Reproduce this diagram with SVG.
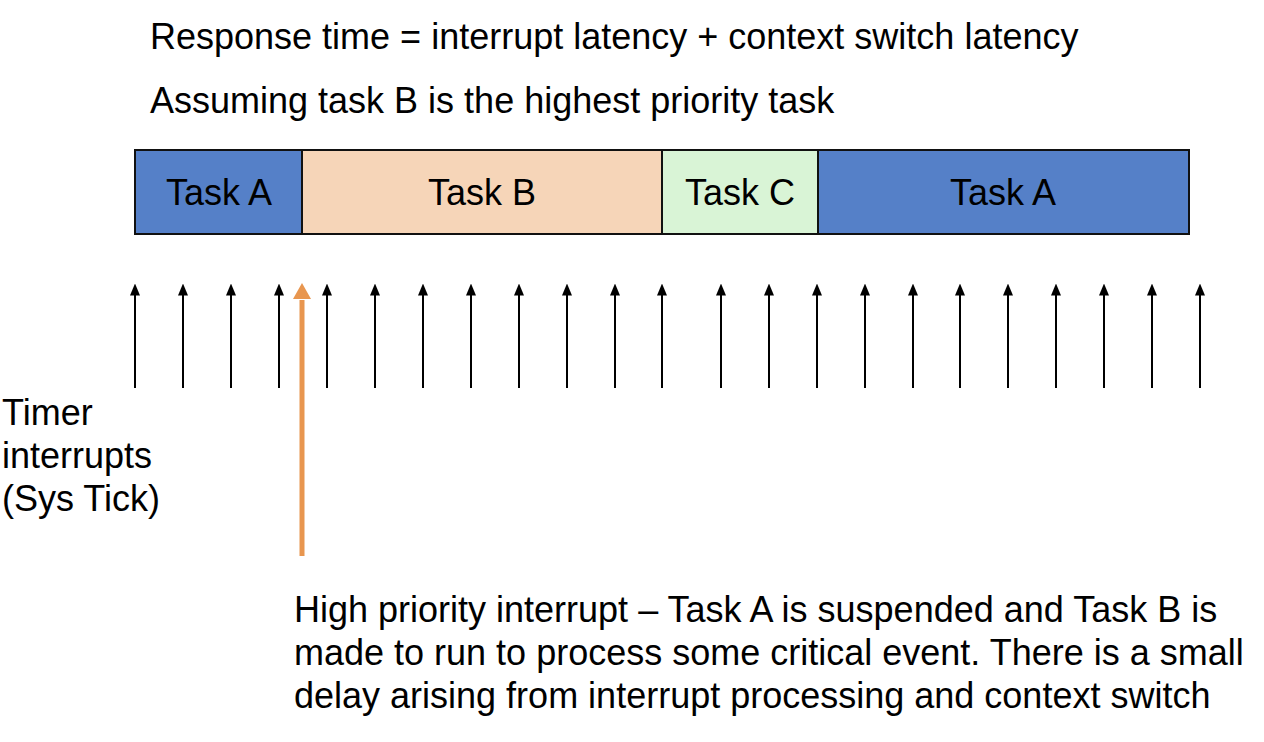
<svg xmlns="http://www.w3.org/2000/svg" width="1264" height="742" viewBox="0 0 1264 742">
<style>
text{font-family:"Liberation Sans",Arial,sans-serif;font-size:36px;fill:#000}
.lbl{text-anchor:middle}
.box{stroke:#111;stroke-width:2}
.tick{stroke:#000;stroke-width:2;fill:none}
</style>
<defs>
<marker id="ah" markerWidth="12" markerHeight="10" refX="0.5" refY="5" orient="auto" markerUnits="userSpaceOnUse" viewBox="0 0 12 10">
<path d="M0,0 L12,5 L0,10 Z" fill="#000"/>
</marker>
</defs>
<rect width="1264" height="742" fill="#fff"/>
<text x="150" y="49">Response time = interrupt latency + context switch latency</text>
<text x="150" y="113">Assuming task B is the highest priority task</text>
<g id="taskA1"><rect class="box" x="135" y="150" width="167" height="84" fill="#5580C8"/><text class="lbl" x="219" y="205">Task A</text></g>
<g id="taskB"><rect class="box" x="302" y="150" width="360" height="84" fill="#F6D5B8"/><text class="lbl" x="482" y="205">Task B</text></g>
<g id="taskC"><rect class="box" x="662" y="150" width="156" height="84" fill="#D9F4D6"/><text class="lbl" x="740" y="205">Task C</text></g>
<g id="taskA2"><rect class="box" x="818" y="150" width="371" height="84" fill="#5580C8"/><text class="lbl" x="1003" y="205">Task A</text></g>
<g id="timer-label"><text x="2" y="425">Timer</text><text x="2" y="468">interrupts</text><text x="2" y="511">(Sys Tick)</text></g>
<g id="connectors">
<line class="tick" marker-end="url(#ah)" x1="135" y1="388" x2="135" y2="295"/>
<line class="tick" marker-end="url(#ah)" x1="183" y1="388" x2="183" y2="295"/>
<line class="tick" marker-end="url(#ah)" x1="231" y1="388" x2="231" y2="295"/>
<line class="tick" marker-end="url(#ah)" x1="279" y1="388" x2="279" y2="295"/>
<line class="tick" marker-end="url(#ah)" x1="327" y1="388" x2="327" y2="295"/>
<line class="tick" marker-end="url(#ah)" x1="375" y1="388" x2="375" y2="295"/>
<line class="tick" marker-end="url(#ah)" x1="423" y1="388" x2="423" y2="295"/>
<line class="tick" marker-end="url(#ah)" x1="471" y1="388" x2="471" y2="295"/>
<line class="tick" marker-end="url(#ah)" x1="519" y1="388" x2="519" y2="295"/>
<line class="tick" marker-end="url(#ah)" x1="567" y1="388" x2="567" y2="295"/>
<line class="tick" marker-end="url(#ah)" x1="615" y1="388" x2="615" y2="295"/>
<line class="tick" marker-end="url(#ah)" x1="662" y1="388" x2="662" y2="295"/>
<line class="tick" marker-end="url(#ah)" x1="721" y1="388" x2="721" y2="295"/>
<line class="tick" marker-end="url(#ah)" x1="769" y1="388" x2="769" y2="295"/>
<line class="tick" marker-end="url(#ah)" x1="817" y1="388" x2="817" y2="295"/>
<line class="tick" marker-end="url(#ah)" x1="865" y1="388" x2="865" y2="295"/>
<line class="tick" marker-end="url(#ah)" x1="913" y1="388" x2="913" y2="295"/>
<line class="tick" marker-end="url(#ah)" x1="960" y1="388" x2="960" y2="295"/>
<line class="tick" marker-end="url(#ah)" x1="1008" y1="388" x2="1008" y2="295"/>
<line class="tick" marker-end="url(#ah)" x1="1056" y1="388" x2="1056" y2="295"/>
<line class="tick" marker-end="url(#ah)" x1="1104" y1="388" x2="1104" y2="295"/>
<line class="tick" marker-end="url(#ah)" x1="1152" y1="388" x2="1152" y2="295"/>
<line class="tick" marker-end="url(#ah)" x1="1200" y1="388" x2="1200" y2="295"/>
<line x1="302" y1="556" x2="302" y2="300" stroke="#E8964F" stroke-width="5"/>
<path d="M302,283 L311,299 L293,299 Z" fill="#E8964F"/>
</g>
<g id="note"><text x="294" y="622">High priority interrupt – Task A is suspended and Task B is</text><text x="294" y="665">made to run to process some critical event. There is a small</text><text x="294" y="708">delay arising from interrupt processing and context switch</text></g>
</svg>
